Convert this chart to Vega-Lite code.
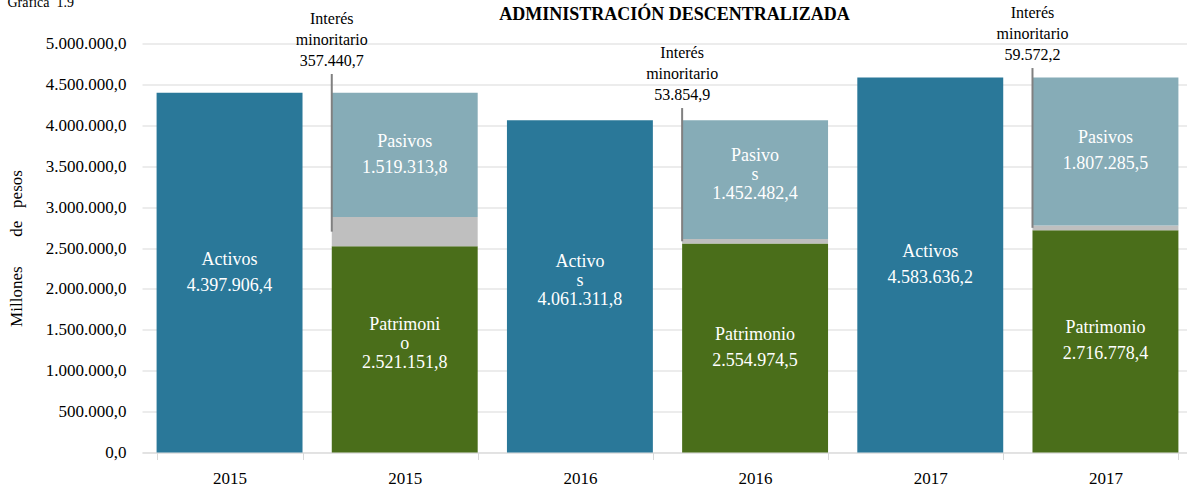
{
  "$schema": "https://vega.github.io/schema/vega-lite/v6.json",
  "width": 1045,
  "height": 409,
  "autosize": {"type": "none"},
  "padding": {"left": 142, "top": 43.5, "right": 0, "bottom": 40.5},
  "config": {
    "locale": {"number": {"decimal": ",", "thousands": ".", "grouping": [3], "currency": ["$", ""]}},
    "font": "Liberation Serif",
    "view": {"stroke": null},
    "text": {"font": "Liberation Serif"},
    "axis": {"labelFont": "Liberation Serif", "titleFont": "Liberation Serif"},
    "title": {"font": "Liberation Serif"}
  },
  "title": {
    "text": "ADMINISTRACIÓN DESCENTRALIZADA",
    "font": "Liberation Serif",
    "fontSize": 18,
    "fontWeight": "bold",
    "color": "#000000",
    "anchor": "middle",
    "frame": "group",
    "dx": 10,
    "dy": 32
  },
  "datasets": {
    "bars": [
      {"key": "2015a", "segment": "Activos", "ord": 1, "value": 4397906.4, "lines": ["Activos", "4.397.906,4"]},
      {"key": "2015b", "segment": "Patrimonio", "ord": 1, "value": 2521151.8, "lines": ["Patrimoni", "o", "2.521.151,8"]},
      {"key": "2015b", "segment": "Interés minoritario", "ord": 2, "value": 357440.7, "lines": null},
      {"key": "2015b", "segment": "Pasivos", "ord": 3, "value": 1519313.8, "lines": ["Pasivos", "1.519.313,8"]},
      {"key": "2016a", "segment": "Activos", "ord": 1, "value": 4061311.8, "lines": ["Activo", "s", "4.061.311,8"]},
      {"key": "2016b", "segment": "Patrimonio", "ord": 1, "value": 2554974.5, "lines": ["Patrimonio", "2.554.974,5"]},
      {"key": "2016b", "segment": "Interés minoritario", "ord": 2, "value": 53854.9, "lines": null},
      {"key": "2016b", "segment": "Pasivos", "ord": 3, "value": 1452482.4, "lines": ["Pasivo", "s", "1.452.482,4"]},
      {"key": "2017a", "segment": "Activos", "ord": 1, "value": 4583636.2, "lines": ["Activos", "4.583.636,2"]},
      {"key": "2017b", "segment": "Patrimonio", "ord": 1, "value": 2716778.4, "lines": ["Patrimonio", "2.716.778,4"]},
      {"key": "2017b", "segment": "Interés minoritario", "ord": 2, "value": 59572.2, "lines": null},
      {"key": "2017b", "segment": "Pasivos", "ord": 3, "value": 1807285.5, "lines": ["Pasivos", "1.807.285,5"]}
    ],
    "callouts": [
      {"key": "2015b", "top": 4627000, "lines": ["Interés", "minoritario", "357.440,7"]},
      {"key": "2016b", "top": 4211000, "lines": ["Interés", "minoritario", "53.854,9"]},
      {"key": "2017b", "top": 4700000, "lines": ["Interés", "minoritario", "59.572,2"]}
    ]
  },
  "layer": [
    {
      "data": {"name": "bars"},
      "transform": [
        {"stack": "value", "groupby": ["key"], "sort": [{"field": "ord", "order": "ascending"}], "as": ["v0", "v1"]}
      ],
      "mark": {"type": "bar"},
      "encoding": {
        "x": {
          "field": "key",
          "type": "nominal",
          "sort": null,
          "scale": {
            "domain": ["2015a", "2015b", "2016a", "2016b", "2017a", "2017b"],
            "range": [0, 1051],
            "paddingInner": 0.167,
            "paddingOuter": 0.0833
          },
          "axis": {
            "orient": "bottom",
            "title": null,
            "labelExpr": "datum.value ? substring(datum.value, 0, 4) : ''",
            "labelAngle": 0,
            "labelFont": "Liberation Serif",
            "labelFontSize": 17,
            "labelColor": "#000000",
            "labelPadding": 11,
            "tickBand": "extent",
            "tickSize": 7,
            "tickColor": "#d9d9d9",
            "domainColor": "#d9d9d9",
            "grid": false
          }
        },
        "y": {
          "field": "v1",
          "type": "quantitative",
          "scale": {"domain": [0, 5000000], "nice": false},
          "axis": {
            "title": "Millones\u00a0\u00a0\u00a0\u00a0\u00a0\u00a0 de\u00a0\u00a0 pesos",
            "values": [0, 500000, 1000000, 1500000, 2000000, 2500000, 3000000, 3500000, 4000000, 4500000, 5000000],
            "format": ",.1f",
            "domain": false,
            "ticks": false,
            "grid": true,
            "gridColor": "#d9d9d9",
            "labelFont": "Liberation Serif",
            "labelFontSize": 17,
            "labelColor": "#000000",
            "labelPadding": 16,
            "titleFont": "Liberation Serif",
            "titleFontSize": 17,
            "titleFontWeight": "normal",
            "titleColor": "#000000",
            "titlePadding": 20
          }
        },
        "y2": {"field": "v0"},
        "color": {
          "field": "segment",
          "type": "nominal",
          "scale": {
            "domain": ["Activos", "Pasivos", "Interés minoritario", "Patrimonio"],
            "range": ["#2a7899", "#86acb7", "#bfbfbf", "#4a6e1a"]
          },
          "legend": null
        }
      }
    },
    {
      "data": {"name": "bars"},
      "transform": [
        {"stack": "value", "groupby": ["key"], "sort": [{"field": "ord", "order": "ascending"}], "as": ["v0", "v1"]},
        {"filter": "datum.lines != null && length(datum.lines) == 2"},
        {"calculate": "(datum.v0 + datum.v1) / 2", "as": "mid"}
      ],
      "mark": {"type": "text", "font": "Liberation Serif", "color": "#ffffff", "fontSize": 18, "lineHeight": 26, "baseline": "middle", "align": "center", "dy": -13},
      "encoding": {
        "x": {"field": "key", "type": "nominal", "sort": null, "axis": null},
        "y": {"field": "mid", "type": "quantitative"},
        "text": {"field": "lines"}
      }
    },
    {
      "data": {"name": "bars"},
      "transform": [
        {"stack": "value", "groupby": ["key"], "sort": [{"field": "ord", "order": "ascending"}], "as": ["v0", "v1"]},
        {"filter": "datum.lines != null && length(datum.lines) == 3"},
        {"calculate": "(datum.v0 + datum.v1) / 2", "as": "mid"}
      ],
      "mark": {"type": "text", "font": "Liberation Serif", "color": "#ffffff", "fontSize": 18, "lineHeight": 19, "baseline": "middle", "align": "center", "dy": -24},
      "encoding": {
        "x": {"field": "key", "type": "nominal", "sort": null, "axis": null},
        "y": {"field": "mid", "type": "quantitative"},
        "text": {"field": "lines"}
      }
    },
    {
      "data": {"name": "bars"},
      "transform": [
        {"stack": "value", "groupby": ["key"], "sort": [{"field": "ord", "order": "ascending"}], "as": ["v0", "v1"]},
        {"filter": "datum.segment == 'Interés minoritario'"},
        {"calculate": "(datum.v0 + datum.v1) / 2", "as": "mid"},
        {"lookup": "key", "from": {"data": {"name": "callouts"}, "key": "key", "fields": ["top"]}}
      ],
      "mark": {"type": "rule", "color": "#808080", "strokeWidth": 2},
      "encoding": {
        "x": {
          "field": "key",
          "type": "nominal",
          "sort": null,
          "bandPosition": 0,
          "axis": {
            "orient": "top",
            "labels": false,
            "ticks": false,
            "domain": false,
            "grid": false,
            "title": "Gráfica\u00a0 1.9",
            "titleFont": "Liberation Serif",
            "titleFontSize": 14,
            "titleFontWeight": "normal",
            "titleColor": "#000000",
            "titleAnchor": "start",
            "titleAlign": "left",
            "titleBaseline": "alphabetic",
            "titleX": -135,
            "titleY": -37
          }
        },
        "y": {"field": "mid", "type": "quantitative"},
        "y2": {"field": "top"}
      }
    },
    {
      "data": {"name": "callouts"},
      "mark": {"type": "text", "font": "Liberation Serif", "color": "#000000", "fontSize": 16, "lineHeight": 21, "baseline": "bottom", "align": "center", "dy": -47},
      "encoding": {
        "x": {"field": "key", "type": "nominal", "sort": null, "bandPosition": 0, "axis": null},
        "y": {"field": "top", "type": "quantitative"},
        "text": {"field": "lines"}
      }
    }
  ],
  "resolve": {"axis": {"x": "independent"}}
}
